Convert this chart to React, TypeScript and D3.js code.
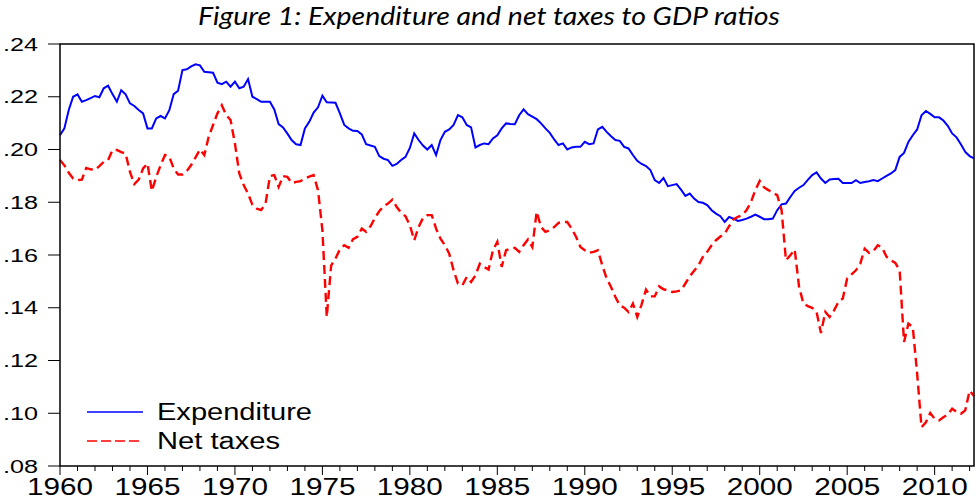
import React from "react";
import * as d3 from "d3";

const START_YEAR = 1960;
const yTicks = [0.08, 0.1, 0.12, 0.14, 0.16, 0.18, 0.2, 0.22, 0.24];
const xLabelYears = [1960, 1965, 1970, 1975, 1980, 1985, 1990, 1995, 2000, 2005, 2010];
const seriesNames = ["Expenditure", "Net taxes"];

// Quarterly, 1960Q1 .. 2012Q2
const expenditure = [
  .2054, .2080, .2150, .2200, // 1960
  .2209, .2181, .2187, .2195, // 1961
  .2203, .2198, .2232, .2242, // 1962
  .2210, .2181, .2225, .2209, // 1963
  .2175, .2165, .2150, .2137, // 1964
  .2080, .2080, .2118, .2127, // 1965
  .2118, .2149, .2210, .2223, // 1966
  .2301, .2304, .2315, .2323, // 1967
  .2319, .2295, .2293, .2291, // 1968
  .2253, .2248, .2257, .2238, // 1969
  .2257, .2232, .2238, .2267, // 1970
  .2200, .2191, .2181, .2181, // 1971
  .2181, .2152, .2096, .2084, // 1972
  .2060, .2035, .2020, .2017, // 1973
  .2080, .2105, .2140, .2160, // 1974
  .2204, .2179, .2178, .2177, // 1975
  .2137, .2093, .2080, .2071, // 1976
  .2070, .2057, .2020, .2015, // 1977
  .2010, .1975, .1965, .1960, // 1978
  .1938, .1945, .1960, .1972, // 1979
  .2006, .2061, .2036, .2015, // 1980
  .2000, .2017, .1979, .2036, // 1981
  .2067, .2076, .2093, .2130, // 1982
  .2122, .2093, .2084, .2008, // 1983
  .2017, .2023, .2020, .2042, // 1984
  .2054, .2080, .2099, .2097, // 1985
  .2096, .2130, .2152, .2134, // 1986
  .2125, .2115, .2099, .2080, // 1987
  .2063, .2038, .2017, .2023, // 1988
  .2000, .2008, .2010, .2010, // 1989
  .2029, .2020, .2023, .2076, // 1990
  .2086, .2067, .2050, .2036, // 1991
  .2033, .2010, .2004, .1979, // 1992
  .1957, .1945, .1937, .1922, // 1993
  .1884, .1873, .1892, .1861, // 1994
  .1865, .1869, .1848, .1824, // 1995
  .1833, .1814, .1801, .1798, // 1996
  .1789, .1770, .1757, .1747, // 1997
  .1725, .1744, .1738, .1729, // 1998
  .1733, .1738, .1745, .1753, // 1999
  .1745, .1736, .1736, .1738, // 2000
  .1770, .1792, .1795, .1820, // 2001
  .1843, .1855, .1865, .1885, // 2002
  .1903, .1913, .1890, .1873, // 2003
  .1886, .1888, .1889, .1873, // 2004
  .1873, .1873, .1884, .1873, // 2005
  .1877, .1880, .1884, .1880, // 2006
  .1890, .1900, .1909, .1922, // 2007
  .1972, .1987, .2029, .2054, // 2008
  .2076, .2130, .2146, .2135, // 2009
  .2122, .2122, .2110, .2090, // 2010
  .2061, .2046, .2020, .1991, // 2011
  .1975, .1966,               // 2012
];

const netTaxes = [
  .1960, .1940, .1912, .1890, // 1960
  .1884, .1886, .1930, .1925, // 1961
  .1922, .1937, .1953, .1960, // 1962
  .1998, .1998, .1990, .1985, // 1963
  .1915, .1869, .1886, .1928, // 1964
  .1947, .1843, .1896, .1940, // 1965
  .1979, .1972, .1928, .1905, // 1966
  .1905, .1919, .1941, .1970, // 1967
  .2000, .1979, .2048, .2093, // 1968
  .2137, .2168, .2130, .2112, // 1969
  .2023, .1909, .1865, .1833, // 1970
  .1790, .1776, .1770, .1795, // 1971
  .1899, .1903, .1858, .1899, // 1972
  .1896, .1873, .1877, .1880, // 1973
  .1890, .1897, .1903, .1846, // 1974
  .1694, .1365, .1560, .1587, // 1975
  .1621, .1637, .1627, .1660, // 1976
  .1669, .1700, .1688, .1709, // 1977
  .1740, .1766, .1785, .1795, // 1978
  .1810, .1782, .1760, .1747, // 1979
  .1713, .1656, .1706, .1740, // 1980
  .1751, .1751, .1700, .1662, // 1981
  .1637, .1605, .1542, .1492, // 1982
  .1485, .1517, .1498, .1523, // 1983
  .1567, .1555, .1545, .1618, // 1984
  .1650, .1555, .1618, .1624, // 1985
  .1627, .1612, .1637, .1659, // 1986
  .1630, .1764, .1706, .1688, // 1987
  .1694, .1706, .1722, .1725, // 1988
  .1725, .1700, .1669, .1630, // 1989
  .1618, .1608, .1612, .1618, // 1990
  .1561, .1511, .1479, .1441, // 1991
  .1409, .1400, .1384, .1416, // 1992
  .1365, .1413, .1469, .1443, // 1993
  .1443, .1481, .1470, .1466, // 1994
  .1460, .1462, .1466, .1492, // 1995
  .1519, .1540, .1561, .1593, // 1996
  .1612, .1637, .1656, .1670, // 1997
  .1681, .1709, .1735, .1745, // 1998
  .1751, .1770, .1801, .1846, // 1999
  .1881, .1856, .1846, .1835, // 2000
  .1827, .1770, .1580, .1599, // 2001
  .1621, .1479, .1416, .1406, // 2002
  .1400, .1384, .1304, .1384, // 2003
  .1365, .1390, .1422, .1435, // 2004
  .1511, .1527, .1542, .1567, // 2005
  .1624, .1608, .1615, .1637, // 2006
  .1628, .1593, .1580, .1570, // 2007
  .1542, .1270, .1340, .1327, // 2008
  .1150, .0947, .0966, .1001, // 2009
  .0979, .0973, .0985, .0995, // 2010
  .1017, .1005, .0998, .1011, // 2011
  .1086, .1065,               // 2012
];

const W = 978;
const H = 499;
const left = 60;
const right = 974;
const top = 44;
const bottom = 466;

export default function App() {
  const n = expenditure.length;
  const x = d3
    .scaleLinear()
    .domain([START_YEAR, START_YEAR + (n - 1) / 4])
    .range([left, right]);
  const y = d3.scaleLinear().domain([0.08, 0.24]).range([bottom, top]);

  const line = d3
    .line<number>()
    .x((_, i) => x(START_YEAR + i / 4))
    .y((d) => y(d));

  const allYears = d3.range(1960, 2013);
  const fmt = (v: number) => d3.format(".2f")(v).replace(/^0/, "");

  return (
    <svg
      width={W}
      height={H}
      style={{ position: "absolute", left: 0, top: 0, background: "#fff" }}
      fontFamily="'Liberation Sans', Arial, sans-serif"
    >
      <rect x={0} y={0} width={W} height={H} fill="#fff" />
      <text
        x={489}
        y={25}
        textAnchor="middle"
        fontFamily="Lato, 'Open Sans', sans-serif"
        fontStyle="italic"
        fontSize={25}
        fill="#000"
        textLength={582}
        lengthAdjust="spacingAndGlyphs"
      >
        Figure 1: Expenditure and net taxes to GDP ratios
      </text>

      {/* y axis ticks */}
      {yTicks.map((t) => (
        <g key={t}>
          <line x1={48} x2={left} y1={y(t)} y2={y(t)} stroke="#000" strokeWidth={1} />
          <text
            x={38}
            y={y(t) + 6.5}
            textAnchor="end"
            fontSize={18}
            fill="#000"
            textLength={35}
            lengthAdjust="spacingAndGlyphs"
          >
            {fmt(t)}
          </text>
        </g>
      ))}

      {/* x axis ticks */}
      {allYears.map((yr) => (
        <line
          key={yr}
          x1={x(yr)}
          x2={x(yr)}
          y1={bottom}
          y2={yr % 5 === 0 ? bottom + 9 : bottom + 5}
          stroke="#000"
          strokeWidth={1}
        />
      ))}
      {xLabelYears.map((yr) => (
        <text
          key={yr}
          x={x(yr)}
          y={495}
          textAnchor="middle"
          fontSize={23}
          fill="#000"
          textLength={66}
          lengthAdjust="spacingAndGlyphs"
        >
          {yr}
        </text>
      ))}

      {/* series */}
      <path d={line(expenditure) || ""} fill="none" stroke="#0000ff" strokeWidth={2} />
      <path
        d={line(netTaxes) || ""}
        fill="none"
        stroke="#ff0000"
        strokeWidth={2.4}
        strokeDasharray="9,5"
      />

      {/* frame */}
      <rect x={left} y={top} width={right - left} height={bottom - top} fill="none" stroke="#000" strokeWidth={1.5} />

      {/* legend */}
      <line x1={87} x2={143} y1={412} y2={412} stroke="#0000ff" strokeWidth={1.5} />
      <text x={157} y={420} fontSize={23} fill="#000" textLength={155} lengthAdjust="spacingAndGlyphs">
        {seriesNames[0]}
      </text>
      <line x1={87} x2={143} y1={441} y2={441} stroke="#ff0000" strokeWidth={1.5} strokeDasharray="10,4" />
      <text x={157} y={449} fontSize={23} fill="#000" textLength={123} lengthAdjust="spacingAndGlyphs">
        {seriesNames[1]}
      </text>
    </svg>
  );
}
